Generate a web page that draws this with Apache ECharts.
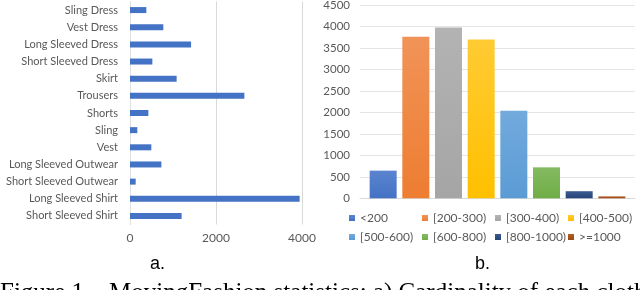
<!DOCTYPE html>
<html>
<head>
<meta charset="utf-8">
<script src="https://cdn.jsdelivr.net/npm/echarts@6/dist/echarts.min.js"></script>
<style>
html,body{margin:0;padding:0;background:#fff;}
#c{width:640px;height:290px;}
</style>
</head>
<body>
<div id="c"></div>
<script>
// ---- data ----
const clothCategories = ["Sling Dress","Vest Dress","Long Sleeved Dress","Short Sleeved Dress","Skirt","Trousers","Shorts","Sling","Vest","Long Sleeved Outwear","Short Sleeved Outwear","Long Sleeved Shirt","Short Sleeved Shirt"];
const clothCounts = [380, 775, 1420, 520, 1085, 2660, 427, 170, 496, 730, 132, 3945, 1200];
const clothTicks = [0, 2000, 4000];

const lengthBins = ["<200","[200-300)","[300-400)","[400-500)","[500-600)","[600-800)","[800-1000)",">=1000"];
const lengthCounts = [645, 3765, 3980, 3700, 2040, 722, 165, 45];
const lengthTicks = [0, 500, 1000, 1500, 2000, 2500, 3000, 3500, 4000, 4500];

const panelLabels = ["a.", "b."];
const captionText = "Figure 1.   MovingFashion statistics: a) Cardinality of each cloth";

const binColors = ["#4472C4","#ED7D31","#A5A5A5","#FFC000","#5B9BD5","#70AD47","#264478","#9E480E"];
const binTopColors = ["#5A84CF","#F19358","#B3B3B3","#FFCB33","#72AADD","#84BA61","#3A5A90","#B0602A"];

const FONT = "Lato";
const FS = 11.5;
const GREY = "#595959";

const chart = echarts.init(document.getElementById('c'));

const series = [{
  type: 'bar', xAxisIndex: 0, yAxisIndex: 0,
  data: clothCounts, barWidth: 6,
  itemStyle: { color: '#4472C4' }, silent: true
}];
lengthBins.forEach((name, i) => {
  series.push({
    type: 'bar', name: name, xAxisIndex: 1, yAxisIndex: 1,
    data: [lengthCounts[i]], barWidth: 27, barGap: '21%',
    itemStyle: { color: new echarts.graphic.LinearGradient(0,0,0,1,[{offset:0,color:binTopColors[i]},{offset:1,color:binColors[i]}]) },
    silent: true
  });
});

const legends = lengthBins.map((name, i) => ({
  data: [name],
  left: 349 + (i % 4) * 73,
  top: i < 4 ? 212 : 231,
  icon: 'rect', itemWidth: 6, itemHeight: 6, padding: 0,
  textStyle: { fontFamily: FONT, fontSize: 12, color: GREY },
  selectedMode: false
}));

const plain = v => String(v);

chart.setOption({
  animation: false,
  grid: [
    { left: 130, top: 1.5, width: 172, height: 223, outerBoundsMode: 'none', containLabel: false },
    { left: 360, top: 5.3, width: 275, height: 193, outerBoundsMode: 'none', containLabel: false }
  ],
  legend: legends,
  xAxis: [
    { gridIndex: 0, type: 'value', min: clothTicks[0], max: clothTicks[clothTicks.length-1], interval: clothTicks[1]-clothTicks[0],
      axisLine: { show: false }, axisTick: { show: false },
      splitLine: { lineStyle: { color: '#D9D9D9', width: 1 } },
      axisLabel: { fontFamily: FONT, fontSize: 12, color: GREY, margin: 8, formatter: plain } },
    { gridIndex: 1, type: 'category', data: [''],
      axisLine: { lineStyle: { color: '#D9D9D9' } }, axisTick: { show: false },
      axisLabel: { show: false } }
  ],
  yAxis: [
    { gridIndex: 0, type: 'category', data: clothCategories, inverse: true,
      axisLine: { show: true, lineStyle: { color: '#E0E0E0' } }, axisTick: { show: false },
      axisLabel: { fontFamily: FONT, fontSize: 11, color: GREY, margin: 12 } },
    { gridIndex: 1, type: 'value', min: lengthTicks[0], max: lengthTicks[lengthTicks.length-1], interval: lengthTicks[1]-lengthTicks[0],
      axisLine: { show: false }, axisTick: { show: false },
      splitLine: { lineStyle: { color: '#E4E4E4', width: 1 } },
      axisLabel: { fontFamily: FONT, fontSize: FS, color: GREY, margin: 10, formatter: plain } }
  ],
  series: series,
  graphic: [
    { type: 'text', left: 150, top: 255, style: { text: panelLabels[0], font: '18px "Liberation Sans"', fill: '#000' } },
    { type: 'text', left: 475, top: 255, style: { text: panelLabels[1], font: '18px "Liberation Sans"', fill: '#000' } },
    { type: 'text', left: 0, top: 281, style: { text: captionText, font: '25px "Liberation Serif"', fill: '#000' } }
  ]
});
</script>
</body>
</html>
